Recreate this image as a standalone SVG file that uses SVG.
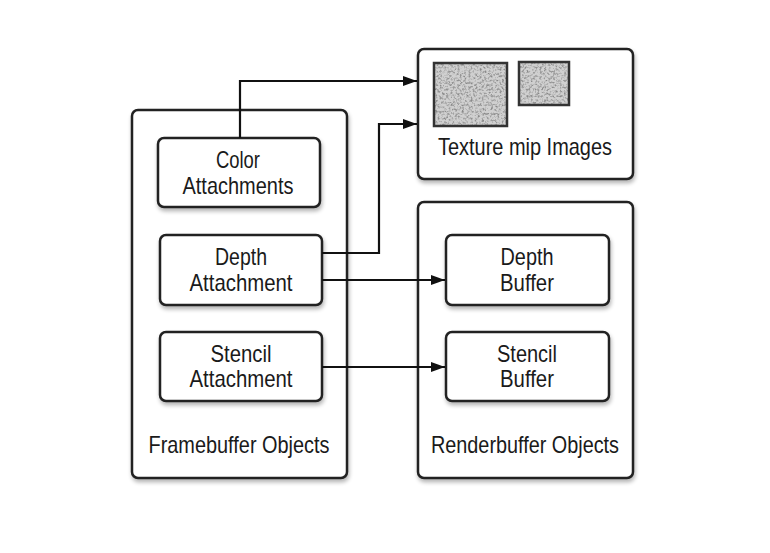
<svg xmlns="http://www.w3.org/2000/svg" width="770" height="553" viewBox="0 0 770 553">
<defs>
<style>
.box{fill:#fff;stroke:#222;stroke-width:2.5;filter:url(#sh)}
.t{font-family:"Liberation Sans",Arial,sans-serif;font-size:24px;fill:#1a1a1a;text-anchor:middle}
.c{fill:none;stroke:#111;stroke-width:2.2}
.nz{stroke:#333;stroke-width:2.5}
</style>
<filter id="sh" x="-10%" y="-10%" width="120%" height="125%">
<feGaussianBlur in="SourceAlpha" stdDeviation="2"/>
<feOffset dx="1" dy="3" result="b"/>
<feComponentTransfer><feFuncA type="linear" slope="0.3"/></feComponentTransfer>
<feMerge><feMergeNode/><feMergeNode in="SourceGraphic"/></feMerge>
</filter>
<filter id="noise" x="0" y="0" width="100%" height="100%">
<feTurbulence type="fractalNoise" baseFrequency="0.45" numOctaves="3" seed="5"/>
<feColorMatrix type="matrix" values="0 0 0 0 0.25  0 0 0 0 0.25  0 0 0 0 0.25  2.8 0 0 0 -1.25"/>
<feComposite in2="SourceGraphic" operator="in"/>
</filter>
<marker id="ah" viewBox="0 0 14 10" refX="14" refY="5" markerWidth="14" markerHeight="10" markerUnits="userSpaceOnUse" orient="auto">
<path d="M0,0 L14,5 L0,10 Z" fill="#111"/>
</marker>
</defs>
<rect width="770" height="553" fill="#fff"/>
<g id="framebuffer-objects">
<rect class="box" x="132" y="110" width="215" height="368" rx="6"/>
<text class="t" x="239" y="453" textLength="181" lengthAdjust="spacingAndGlyphs">Framebuffer Objects</text>
</g>
<g id="texture-mip-images">
<rect class="box" x="418" y="49" width="215" height="130" rx="6"/>
<rect x="434" y="63" width="73" height="63" fill="#d0d0d0"/>
<rect x="434" y="63" width="73" height="63" fill="#fff" filter="url(#noise)"/>
<rect x="434" y="63" width="73" height="63" fill="none" class="nz"/>
<rect x="519" y="62" width="50" height="43" fill="#d0d0d0"/>
<rect x="519" y="62" width="50" height="43" fill="#fff" filter="url(#noise)"/>
<rect x="519" y="62" width="50" height="43" fill="none" class="nz"/>
<text class="t" x="525" y="155" textLength="174" lengthAdjust="spacingAndGlyphs">Texture mip Images</text>
</g>
<g id="renderbuffer-objects">
<rect class="box" x="418" y="202" width="215" height="276" rx="6"/>
<text class="t" x="525" y="453" textLength="188" lengthAdjust="spacingAndGlyphs">Renderbuffer Objects</text>
</g>
<g id="color-attachments">
<rect class="box" x="158" y="138" width="162" height="69" rx="6"/>
<text class="t" x="238" y="168" textLength="44" lengthAdjust="spacingAndGlyphs">Color</text>
<text class="t" x="238" y="194" textLength="111" lengthAdjust="spacingAndGlyphs">Attachments</text>
</g>
<g id="depth-attachment">
<rect class="box" x="160" y="235" width="162" height="70" rx="6"/>
<text class="t" x="241" y="265" textLength="52" lengthAdjust="spacingAndGlyphs">Depth</text>
<text class="t" x="241" y="291" textLength="103" lengthAdjust="spacingAndGlyphs">Attachment</text>
</g>
<g id="stencil-attachment">
<rect class="box" x="160" y="332" width="162" height="69" rx="6"/>
<text class="t" x="241" y="362" textLength="61" lengthAdjust="spacingAndGlyphs">Stencil</text>
<text class="t" x="241" y="387" textLength="103" lengthAdjust="spacingAndGlyphs">Attachment</text>
</g>
<g id="depth-buffer">
<rect class="box" x="446" y="235" width="163" height="70" rx="6"/>
<text class="t" x="527" y="265" textLength="53" lengthAdjust="spacingAndGlyphs">Depth</text>
<text class="t" x="527" y="291" textLength="54" lengthAdjust="spacingAndGlyphs">Buffer</text>
</g>
<g id="stencil-buffer">
<rect class="box" x="446" y="332" width="163" height="69" rx="6"/>
<text class="t" x="527" y="362" textLength="60" lengthAdjust="spacingAndGlyphs">Stencil</text>
<text class="t" x="527" y="387" textLength="54" lengthAdjust="spacingAndGlyphs">Buffer</text>
</g>
<g id="connectors">
<path class="c" d="M240,138 V81 H417" marker-end="url(#ah)"/>
<path class="c" d="M322,253 H379 V124 H417" marker-end="url(#ah)"/>
<path class="c" d="M322,280 H445" marker-end="url(#ah)"/>
<path class="c" d="M322,367 H445" marker-end="url(#ah)"/>
</g>
</svg>
